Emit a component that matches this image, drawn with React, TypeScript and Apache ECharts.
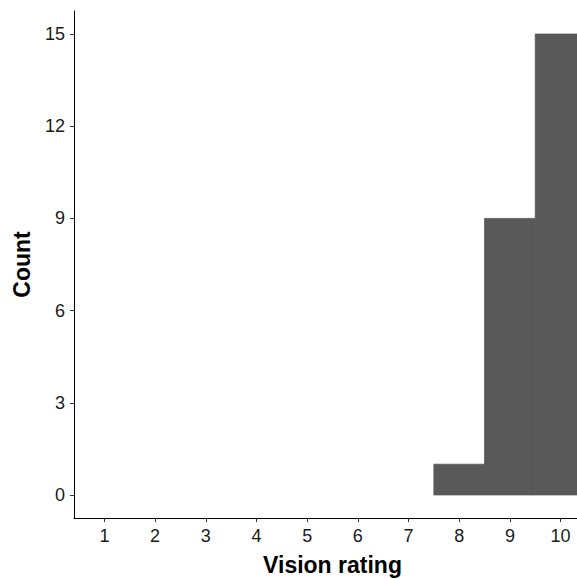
import React, { useEffect, useRef } from "react";
import * as echarts from "echarts";

const ratings = [1, 2, 3, 4, 5, 6, 7, 8, 9, 10];
const counts = [0, 0, 0, 0, 0, 0, 0, 1, 9, 15];
const yTicks = [0, 3, 6, 9, 12, 15];

export default function App() {
  const ref = useRef<HTMLDivElement>(null);
  useEffect(() => {
    if (!ref.current) return;
    const chart = echarts.init(ref.current, null, { renderer: "svg" });
    const font = "Liberation Sans, Arial, sans-serif";
    chart.setOption({
      animation: false,
      backgroundColor: "#ffffff",
      grid: { left: 74, top: 11, right: 10, bottom: 61, containLabel: false, outerBoundsMode: "none" },
      xAxis: {
        type: "value",
        min: 0.4,
        max: 10.6,
        name: "Vision rating",
        nameLocation: "middle",
        nameGap: 35,
        nameTextStyle: { fontFamily: font, fontSize: 23, fontWeight: "bold", color: "#000" },
        axisLine: { show: true, onZero: false, lineStyle: { color: "#000", width: 1 } },
        axisTick: { show: true, customValues: ratings, length: 4, lineStyle: { color: "#333" } },
        axisLabel: { customValues: ratings, fontFamily: font, fontSize: 18, color: "#1a1a1a", margin: 9 },
        splitLine: { show: false },
      },
      yAxis: {
        type: "value",
        min: -0.75,
        max: 15.75,
        name: "Count",
        nameLocation: "middle",
        nameRotate: 90,
        nameGap: 41,
        nameTextStyle: { fontFamily: font, fontSize: 23, fontWeight: "bold", color: "#000" },
        axisLine: { show: true, onZero: false, lineStyle: { color: "#000", width: 1 } },
        axisTick: { show: true, customValues: yTicks, length: 4, lineStyle: { color: "#333" } },
        axisLabel: { customValues: yTicks, fontFamily: font, fontSize: 18, color: "#1a1a1a", margin: 9 },
        splitLine: { show: false },
      },
      series: [
        {
          type: "custom",
          clip: false,
          data: ratings.map((r, i) => [r, counts[i]]),
          renderItem: (params: any, api: any) => {
            const x = api.value(0);
            const v = api.value(1);
            if (!v) return null;
            const p0 = api.coord([x - 0.5, 0]);
            const p1 = api.coord([x + 0.5, v]);
            return {
              type: "rect",
              shape: { x: p0[0], y: p1[1], width: p1[0] - p0[0], height: p0[1] - p1[1] },
              style: { fill: "#595959", stroke: "#595959", lineWidth: 0.8 },
            };
          },
        },
      ],
    });
    return () => chart.dispose();
  }, []);
  return (
    <div style={{ position: "absolute", left: 0, top: 0, width: 577, height: 579, overflow: "hidden" }}>
      <div ref={ref} style={{ width: 601, height: 579 }} />
    </div>
  );
}
